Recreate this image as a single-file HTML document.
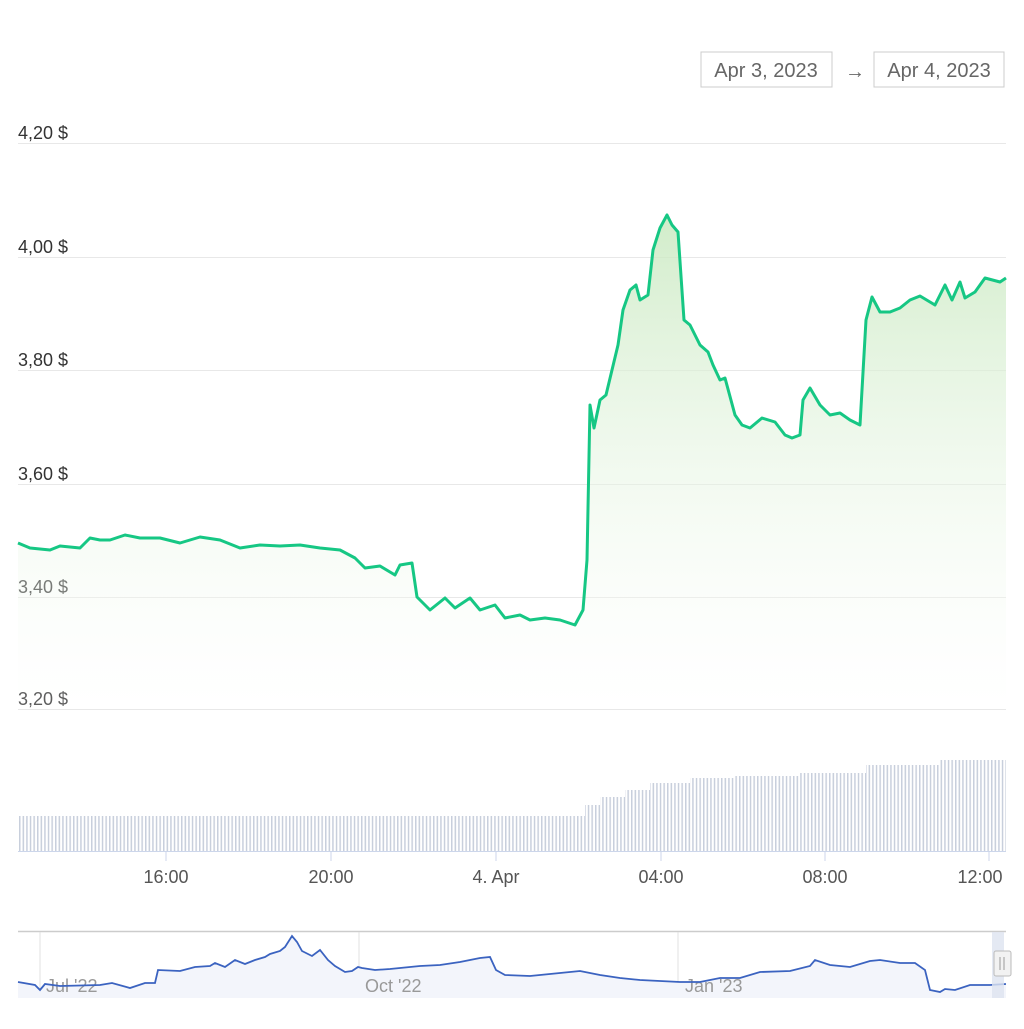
<!DOCTYPE html>
<html><head><meta charset="utf-8"><style>
html,body{margin:0;padding:0;background:#fff;}
svg text{font-family:"Liberation Sans",sans-serif;}
</style></head><body>
<svg width="1024" height="1024" xmlns="http://www.w3.org/2000/svg">
<defs>
<linearGradient id="g" x1="0" y1="0" x2="0" y2="1">
<stop offset="0" stop-color="#c9e9c0" stop-opacity="0.85"/>
<stop offset="1" stop-color="#ffffff" stop-opacity="0.2"/>
</linearGradient>
<pattern id="vp" patternUnits="userSpaceOnUse" x="19" y="0" width="3.6" height="20">
<rect x="0" y="0" width="1.5" height="20" fill="#c8cfdc"/>
</pattern>
</defs>
<rect x="701" y="52" width="131" height="35" fill="#fff" stroke="#ccc"/>
<text x="766" y="77" font-size="20" fill="#666" text-anchor="middle">Apr 3, 2023</text>
<text x="855" y="78" font-size="20" fill="#666" text-anchor="middle">→</text>
<rect x="874" y="52" width="130" height="35" fill="#fff" stroke="#ccc"/>
<text x="939" y="77" font-size="20" fill="#666" text-anchor="middle">Apr 4, 2023</text>
<g stroke="#e8e8e8" stroke-width="1">
<line x1="18" x2="1006" y1="143.5" y2="143.5"/><line x1="18" x2="1006" y1="257.5" y2="257.5"/>
<line x1="18" x2="1006" y1="370.5" y2="370.5"/><line x1="18" x2="1006" y1="484.5" y2="484.5"/>
<line x1="18" x2="1006" y1="597.5" y2="597.5"/><line x1="18" x2="1006" y1="709.5" y2="709.5"/>
</g>
<g font-size="18" fill="#333">
<text x="18" y="139">4,20 $</text><text x="18" y="253">4,00 $</text><text x="18" y="366">3,80 $</text>
<text x="18" y="480">3,60 $</text><text x="18" y="593">3,40 $</text><text x="18" y="705">3,20 $</text>
</g>
<path fill="url(#vp)" d="M18,851 L18,816 L585,816 L585,805 L600,805 L600,797 L625,797 L625,790 L650,790 L650,783 L690,783 L690,778 L735,778 L735,776 L800,776 L800,773 L866,773 L866,765 L940,765 L940,760 L1006,760 L1006,851 Z"/>
<line x1="18" x2="1006" y1="851.5" y2="851.5" stroke="#ccd6eb"/>
<g stroke="#ccd6eb"><line x1="166" x2="166" y1="851" y2="861"/><line x1="331" x2="331" y1="851" y2="861"/><line x1="496" x2="496" y1="851" y2="861"/><line x1="661" x2="661" y1="851" y2="861"/><line x1="825" x2="825" y1="851" y2="861"/><line x1="989" x2="989" y1="851" y2="861"/></g>
<g font-size="18" fill="#555" text-anchor="middle">
<text x="166" y="883">16:00</text><text x="331" y="883">20:00</text><text x="496" y="883">4. Apr</text>
<text x="661" y="883">04:00</text><text x="825" y="883">08:00</text><text x="980" y="883">12:00</text>
</g>
<path fill="url(#g)" d="M18,709 L18,543 L30,548 L50,550 L60,546 L80,548 L90,538 L100,540 L110,540 L125,535 L140,538 L160,538 L180,543 L200,537 L220,540 L240,548 L260,545 L280,546 L300,545 L320,548 L340,550 L355,558 L365,568 L380,566 L395,575 L400,565 L412,563 L417,597 L430,610 L445,598 L455,608 L470,598 L480,610 L495,605 L505,618 L520,615 L530,620 L545,618 L560,620 L575,625 L583,610 L587,560 L590,405 L594,428 L600,400 L606,395 L612,370 L618,345 L623,310 L630,290 L636,285 L640,300 L648,295 L653,250 L660,228 L667,215 L672,225 L678,232 L684,320 L690,325 L700,345 L708,352 L713,365 L720,380 L725,378 L735,415 L742,425 L750,428 L762,418 L775,422 L785,435 L792,438 L800,435 L803,400 L810,388 L820,405 L830,415 L840,413 L850,420 L860,425 L866,320 L872,297 L880,312 L890,312 L900,308 L910,300 L920,296 L935,305 L945,285 L952,300 L960,282 L965,298 L975,292 L985,278 L1000,282 L1006,278 L1006,709 Z"/>
<polyline fill="none" stroke="#16c784" stroke-width="3" stroke-linejoin="round" points="18,543 30,548 50,550 60,546 80,548 90,538 100,540 110,540 125,535 140,538 160,538 180,543 200,537 220,540 240,548 260,545 280,546 300,545 320,548 340,550 355,558 365,568 380,566 395,575 400,565 412,563 417,597 430,610 445,598 455,608 470,598 480,610 495,605 505,618 520,615 530,620 545,618 560,620 575,625 583,610 587,560 590,405 594,428 600,400 606,395 612,370 618,345 623,310 630,290 636,285 640,300 648,295 653,250 660,228 667,215 672,225 678,232 684,320 690,325 700,345 708,352 713,365 720,380 725,378 735,415 742,425 750,428 762,418 775,422 785,435 792,438 800,435 803,400 810,388 820,405 830,415 840,413 850,420 860,425 866,320 872,297 880,312 890,312 900,308 910,300 920,296 935,305 945,285 952,300 960,282 965,298 975,292 985,278 1000,282 1006,278"/>
<line x1="18" x2="1006" y1="931.5" y2="931.5" stroke="#ccc" stroke-width="1.5"/>
<g stroke="#e0e0e0"><line x1="40" x2="40" y1="932" y2="998"/><line x1="359" x2="359" y1="932" y2="998"/><line x1="678" x2="678" y1="932" y2="998"/></g>
<path fill="#f3f5fb" d="M18,998 L18,982 L35,985 L40,990 L45,984 L60,986 L100,985 L112,983 L130,988 L145,983 L155,983 L158,970 L180,971 L195,967 L210,966 L215,963 L225,967 L235,960 L245,964 L255,960 L265,957 L270,954 L280,951 L285,947 L292,936 L297,942 L302,951 L312,956 L320,950 L328,960 L335,966 L345,972 L352,971 L358,967 L362,968 L375,970 L390,969 L400,968 L420,966 L440,965 L460,962 L470,960 L480,958 L490,957 L496,970 L505,975 L530,976 L560,973 L580,971 L600,975 L620,978 L640,980 L680,982 L700,982 L720,978 L740,978 L760,972 L790,971 L810,966 L815,960 L830,965 L850,967 L870,961 L880,960 L900,963 L915,963 L925,970 L930,990 L940,992 L945,989 L955,990 L970,985 L990,985 L1006,984 L1006,998 Z"/>
<g font-size="18" fill="#999"><text x="46" y="992">Jul '22</text><text x="365" y="992">Oct '22</text><text x="685" y="992">Jan '23</text></g>
<polyline fill="none" stroke="#3b63c0" stroke-width="1.8" points="18,982 35,985 40,990 45,984 60,986 100,985 112,983 130,988 145,983 155,983 158,970 180,971 195,967 210,966 215,963 225,967 235,960 245,964 255,960 265,957 270,954 280,951 285,947 292,936 297,942 302,951 312,956 320,950 328,960 335,966 345,972 352,971 358,967 362,968 375,970 390,969 400,968 420,966 440,965 460,962 470,960 480,958 490,957 496,970 505,975 530,976 560,973 580,971 600,975 620,978 640,980 680,982 700,982 720,978 740,978 760,972 790,971 810,966 815,960 830,965 850,967 870,961 880,960 900,963 915,963 925,970 930,990 940,992 945,989 955,990 970,985 990,985 1006,984"/>
<rect x="992" y="932" width="12" height="66" fill="#dde3f0" opacity="0.8"/>
<rect x="994" y="951" width="17" height="25" rx="2" fill="#f2f2f2" stroke="#bbb"/>
<line x1="1000" x2="1000" y1="957" y2="970" stroke="#999"/><line x1="1004" x2="1004" y1="957" y2="970" stroke="#999"/>
</svg>
</body></html>
